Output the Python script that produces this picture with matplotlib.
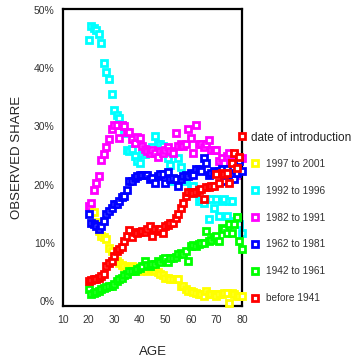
import numpy as np
import matplotlib.pyplot as plt
from matplotlib.ticker import FuncFormatter, MultipleLocator

plt.rcParams['font.family'] = ['Liberation Sans', 'DejaVu Sans']

# observed share (%) by age, one series per product cohort
ages = np.arange(20, 81)

before_1941 = [3.5, 3.6, 3.7, 3.8, 4.0, 4.3, 4.6, 6.0, 6.5, 6.9,
               7.8, 8.5, 9.0, 9.3, 10.3, 11.2, 12.2, 10.9, 11.9, 11.7,
               11.9, 12.0, 11.9, 12.3, 12.9, 11.2, 12.4, 12.0, 12.4, 11.6,
               12.9, 13.0, 13.4, 13.4, 14.3, 15.0, 16.0, 16.9, 18.1, 18.8,
               18.8, 18.6, 18.8, 19.0, 19.2, 17.6, 19.5, 19.6, 19.8, 19.8,
               21.9, 20.3, 22.0, 21.9, 22.0, 20.3, 23.8, 25.5, 22.9, 24.7,
               28.3]

c1942_1961 = [2.1, 1.2, 1.4, 1.6, 1.7, 2.0, 2.2, 2.4, 2.6, 2.6,
              2.9, 3.4, 3.8, 4.0, 4.4, 4.6, 5.2, 5.1, 5.2, 5.5,
              5.7, 6.0, 6.9, 6.1, 6.0, 6.3, 6.4, 6.9, 6.6, 7.2,
              7.4, 6.6, 7.4, 7.4, 7.6, 8.1, 8.3, 8.1, 8.6, 6.9,
              9.5, 9.6, 9.5, 9.8, 10.0, 10.0, 12.1, 10.3, 10.4, 10.9,
              11.2, 10.3, 12.6, 12.4, 11.6, 13.3, 11.7, 13.3, 14.5, 10.3,
              9.0]

c1962_1981 = [15.0, 13.4, 13.2, 12.9, 12.4, 12.9, 13.8, 15.0, 15.5, 15.9,
              16.7, 16.7, 17.2, 17.8, 18.1, 19.0, 20.7, 20.7, 21.2, 21.5,
              21.7, 21.7, 21.6, 21.6, 21.0, 21.2, 20.3, 21.4, 21.9, 21.9,
              20.3, 22.1, 21.0, 21.2, 21.0, 19.8, 21.0, 21.4, 21.6, 21.5,
              22.0, 21.6, 22.6, 22.6, 22.4, 24.5, 23.8, 21.6, 22.0, 22.3,
              22.0, 22.4, 22.6, 20.7, 22.6, 22.0, 21.5, 21.0, 22.0, 24.0,
              22.4]

c1982_1991 = [16.3, 16.9, 19.0, 20.2, 21.4, 24.3, 25.3, 26.4, 27.9, 29.6,
              30.2, 30.2, 28.1, 30.2, 30.0, 29.0, 29.0, 27.9, 27.2, 28.2,
              28.1, 26.7, 26.2, 25.8, 25.5, 26.0, 25.5, 24.7, 25.8, 25.5,
              26.0, 26.4, 25.8, 25.5, 28.8, 26.6, 26.9, 26.6, 27.0, 29.5,
              28.0, 25.5, 30.2, 27.0, 26.9, 26.5, 27.0, 27.6, 26.0, 25.9,
              26.0, 24.0, 24.5, 23.8, 25.0, 25.5, 24.0, 25.3, 21.6, 24.5,
              24.6]

c1992_1996 = [44.8, 47.3, 46.9, 46.6, 45.9, 44.3, 41.0, 39.3, 38.1, 35.5,
              32.9, 32.0, 31.5, 30.2, 28.8, 26.0, 25.8, 26.2, 25.0, 24.0,
              23.8, 25.3, 25.3, 25.8, 26.2, 26.4, 28.3, 27.0, 27.0, 26.6,
              25.5, 24.5, 23.3, 20.7, 20.8, 24.6, 23.1, 20.7, 21.0, 18.6,
              19.8, 19.8, 18.6, 17.2, 17.2, 16.9, 17.5, 14.1, 17.5, 16.0,
              17.5, 14.6, 17.2, 17.5, 14.6, 17.2, 17.2, 13.8, 14.5, 13.3,
              11.7]

# newest cohort only shows up from age 22
ages_1997 = np.arange(22, 81)
c1997_2001 = [15.2, 13.5, 12.0, 11.2, 10.9, 10.7, 9.1, 8.6, 7.8, 6.9,
              6.5, 6.2, 6.0, 5.7, 5.5, 6.0, 5.8, 5.5, 5.2, 5.4,
              5.5, 5.2, 5.5, 5.7, 5.2, 5.0, 4.7, 4.4, 4.0, 4.0,
              3.8, 3.8, 3.8, 3.8, 2.6, 2.6, 2.0, 1.7, 1.7, 1.5,
              1.4, 1.2, 1.2, 0.9, 1.7, 1.2, 1.2, 1.2, 0.9, 1.2,
              1.2, 1.4, 1.4, -0.4, 1.4, 1.2, 0.9, 0.9, 0.9]

labels = ['1997 to 2001', '1992 to 1996', '1982 to 1991',
          '1962 to 1981', '1942 to 1961', 'before 1941']
colors = ['#ffff00', '#00ffff', '#ff00ff', '#0000ff', '#00ff00', '#ff0000']
series = [(ages_1997, c1997_2001), (ages, c1992_1996), (ages, c1982_1991),
          (ages, c1962_1981), (ages, c1942_1961), (ages, before_1941)]
zorders = [3, 1, 2, 5, 4, 6]

fig = plt.figure(figsize=(3.53, 3.61), dpi=100)
ax = fig.add_axes([0.1785, 0.1537, 0.507, 0.8213])

handles = []
for (x, y), lab, c, z in zip(series, labels, colors, zorders):
    h, = ax.plot(x, np.array(y) / 100, ls='none', marker='s', ms=4.4,
                 mfc='white', mec=c, mew=2.0, clip_on=False, zorder=z,
                 label=lab)
    handles.append(h)

ax.set_xlim(10, 80)
ax.set_ylim(-0.008, 0.502)
ax.xaxis.set_major_locator(MultipleLocator(10))
ax.yaxis.set_major_locator(MultipleLocator(0.1))
ax.yaxis.set_major_formatter(FuncFormatter(lambda v, p: f'{v*100:.0f}%'))
ax.tick_params(length=0, labelsize=7.5, labelcolor='#333333')
ax.tick_params(axis='x', pad=7)
ax.tick_params(axis='y', pad=6)
for sp in ax.spines.values():
    sp.set_linewidth(1.6)

ax.set_xlabel('AGE', fontsize=9.5, labelpad=15, color='#222222')
ax.set_ylabel('OBSERVED SHARE', fontsize=9.5, labelpad=8, color='#222222')

fig.text(251 / 353, 1 - 138 / 361, 'date of introduction', fontsize=8.5,
         va='center', ha='left', color='#222222')
leg = fig.legend(handles=handles, labels=labels, loc='upper left',
                 bbox_to_anchor=(250 / 353, 1 - 159 / 361), frameon=False,
                 fontsize=7.3, handlelength=1.0, handletextpad=0.6,
                 labelspacing=1.66, borderaxespad=0, borderpad=0)
for t in leg.get_texts():
    t.set_color('#333333')

fig.savefig('out.png', dpi=100)
